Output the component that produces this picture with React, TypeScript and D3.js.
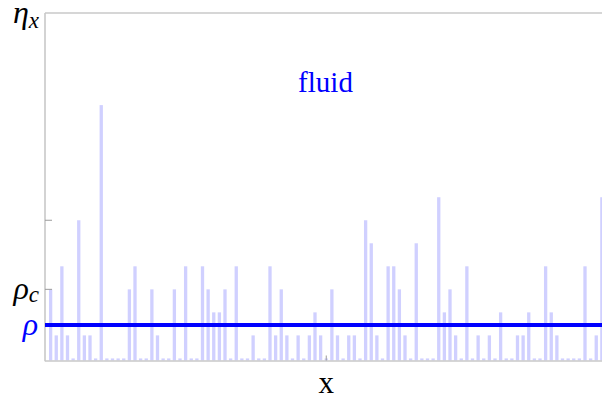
import React from "react";
import * as d3 from "d3";

// Occupation count at each site x = 1..99
const sites: number[] = d3.range(1, 100);
const counts: number[] = [
  3, 1, 4, 1, 0, 6, 1, 1, 0, 11, 0, 0, 0, 0, 3, 4, 0, 0, 3, 1, 0, 0, 3, 0, 4,
  0, 0, 4, 3, 2, 2, 3, 0, 4, 0, 0, 1, 0, 0, 4, 1, 3, 1, 0, 1, 0, 1, 2, 1, 0, 3,
  1, 0, 1, 1, 0, 6, 5, 1, 0, 4, 4, 3, 1, 0, 5, 0, 0, 0, 7, 2, 3, 1, 0, 4, 0, 1,
  0, 1, 0, 2, 0, 0, 1, 1, 2, 0, 0, 4, 2, 1, 0, 0, 0, 0, 4, 0, 1, 7,
];

// Reference levels on the vertical axis
const rhoMean = 1.45;
const rhoCrit = 3;
const midTick = 6;
const etaTop = 15;
const xMid = 50;

const W = 602;
const H = 395;
const serif = "'Liberation Serif', 'DejaVu Serif', serif";

export default function App() {
  const x = d3.scaleLinear().domain([0, 100]).range([45, 607.5]);
  const y = d3.scaleLinear().domain([-0.09, etaTop]).range([360.5, 13]);
  const step = x(1) - x(0);
  const bw = step * 0.59;
  const left = x(0);
  const base = y(-0.09);

  return (
    <svg
      width={W}
      height={H}
      style={{ position: "absolute", left: 0, top: 0, background: "#fff" }}
    >
      {/* bars */}
      <g fill="#d0d0ff">
        {sites.map((s, i) => (
          <rect
            key={s}
            x={x(s) - bw / 2}
            y={y(counts[i])}
            width={bw}
            height={base - y(counts[i])}
          />
        ))}
      </g>

      {/* frame */}
      <g stroke="#c8c8c8" strokeWidth={1.6} fill="none">
        <line x1={left} x2={W} y1={y(etaTop)} y2={y(etaTop)} />
        <line x1={left} x2={left} y1={y(etaTop)} y2={base + 0.8} />
        <line x1={left} x2={W} y1={base + 0.5} y2={base + 0.5} />
      </g>

      {/* ticks */}
      <g stroke="#9a9a9a" strokeWidth={1}>
        {[rhoCrit, midTick, rhoMean].map((v) => (
          <line key={v} x1={left} x2={left + 7} y1={y(v)} y2={y(v)} />
        ))}
        <line x1={x(xMid)} x2={x(xMid)} y1={base} y2={base - 5} />
      </g>

      {/* mean density */}
      <line
        x1={left}
        x2={W}
        y1={y(rhoMean)}
        y2={y(rhoMean)}
        stroke="#0000ff"
        strokeWidth={4}
      />

      {/* axis labels */}
      <text
        x={39}
        y={y(etaTop) + 10}
        textAnchor="end"
        fontFamily={serif}
        fontStyle="italic"
        fontSize={32}
        fill="#000"
      >
        η<tspan fontSize={23} dy={5}>x</tspan>
      </text>
      <text
        x={39}
        y={y(rhoCrit) + 10}
        textAnchor="end"
        fontFamily={serif}
        fontStyle="italic"
        fontSize={32}
        fill="#000"
      >
        ρ<tspan fontSize={23} dy={3}>c</tspan>
      </text>
      <text
        x={38}
        y={y(rhoMean) + 10}
        textAnchor="end"
        fontFamily={serif}
        fontStyle="italic"
        fontSize={32}
        fill="#0000ff"
      >
        ρ
      </text>
      <text
        x={x(xMid)}
        y={393}
        textAnchor="middle"
        fontFamily={serif}
        fontSize={31}
        fill="#000"
      >
        x
      </text>

      <text
        x={325.5}
        y={92}
        textAnchor="middle"
        fontFamily={serif}
        fontSize={29}
        fill="#0000ff"
      >
        fluid
      </text>
    </svg>
  );
}
